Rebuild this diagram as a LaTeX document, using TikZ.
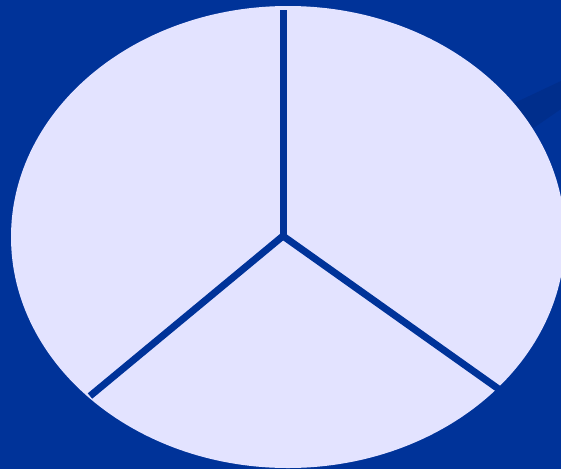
\documentclass[tikz,border=0pt]{standalone}
\usepackage{tikz}
\usetikzlibrary{positioning}
\definecolor{bgblue}{HTML}{003399}
\definecolor{stripeblue}{HTML}{002E8C}
\definecolor{pielav}{HTML}{E3E3FF}

\begin{document}
\begin{tikzpicture}[x=1pt, y=-1pt]
    % Background
    \fill[bgblue] (0,0) rectangle (561,469);
    \useasboundingbox (0,0) rectangle (561,469);
    \fill[stripeblue] (470,124) -- (561,81) -- (561,109) -- (470,172) -- cycle;

    % Pie
    \coordinate (ctr) at (288,237);
    \fill[pielav] (ctr) ellipse [x radius=277, y radius=231];

    % Spokes
    \coordinate (tip) at (283,10);
    \coordinate (hub) at (283,236);
    \coordinate (lft) at (90,396);
    \coordinate (rgt) at (500,390);
    \draw[bgblue, line width=7] (tip) -- (hub);
    \draw[bgblue, line width=7] (lft) -- (hub) -- (rgt);
\end{tikzpicture}
\end{document}
